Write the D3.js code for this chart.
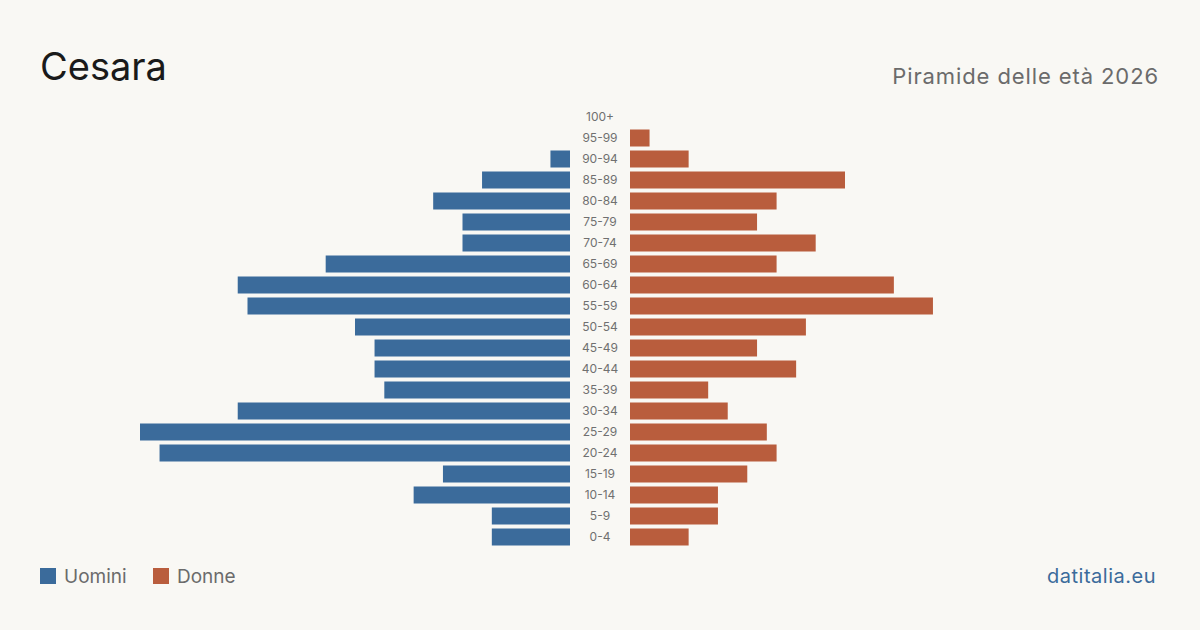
<!DOCTYPE html>
<html>
<head>
<meta charset="utf-8">
<script src="https://cdn.jsdelivr.net/npm/d3@7"></script>
<style>
  body { margin: 0; background: #f9f8f4; }
  svg { display: block; font-family: Inter, "Noto Sans", sans-serif; }
</style>
</head>
<body>
<div id="chart"></div>
<script>
// age groups, top to bottom
const ageGroups = ["100+", "95-99", "90-94", "85-89", "80-84", "75-79", "70-74", "65-69",
  "60-64", "55-59", "50-54", "45-49", "40-44", "35-39", "30-34", "25-29", "20-24",
  "15-19", "10-14", "5-9", "0-4"];
const men   = [0, 0, 2, 9, 14, 11, 11, 25, 34, 33, 22, 20, 20, 19, 34, 44, 42, 13, 16, 8, 8];
const women = [0, 2, 6, 22, 15, 13, 19, 15, 27, 31, 18, 13, 17, 8, 10, 14, 15, 12, 9, 9, 6];
const legendLabels = ["Uomini", "Donne"];

const width = 1200, height = 630;
const blue = "#3b6b9b", red = "#b95d3d";

const svg = d3.select("#chart").append("svg")
  .attr("width", width)
  .attr("height", height);

svg.append("rect").attr("width", width).attr("height", height).attr("fill", "#f9f8f4");

// title + subtitle
svg.append("text")
  .attr("x", 40).attr("y", 80)
  .attr("font-size", 38)
  .attr("fill", "#1a1a1a")
  .text("Cesara");

svg.append("text")
  .attr("x", 1159).attr("y", 84)
  .attr("text-anchor", "end")
  .attr("font-size", 22)
  .attr("letter-spacing", 0.9)
  .attr("fill", "#6b6b6b")
  .text("Piramide delle età 2026");

// scales
const y = d3.scaleBand()
  .domain(ageGroups)
  .range([106.5, 547.5])
  .paddingInner(4 / 21)
  .paddingOuter(2 / 21);

const xLeft = d3.scaleLinear().domain([0, 44]).range([570, 140]);
const xRight = d3.scaleLinear().domain([0, 44]).range([630, 1060]);

// men bars
svg.append("g").selectAll("rect")
  .data(ageGroups)
  .join("rect")
  .attr("x", (d, i) => xLeft(men[i]))
  .attr("y", d => y(d))
  .attr("width", (d, i) => xLeft(0) - xLeft(men[i]))
  .attr("height", y.bandwidth())
  .attr("fill", blue);

// women bars
svg.append("g").selectAll("rect")
  .data(ageGroups)
  .join("rect")
  .attr("x", xRight(0))
  .attr("y", d => y(d))
  .attr("width", (d, i) => xRight(women[i]) - xRight(0))
  .attr("height", y.bandwidth())
  .attr("fill", red);

// age labels in the middle
svg.append("g").selectAll("text")
  .data(ageGroups)
  .join("text")
  .attr("x", 600)
  .attr("y", d => y(d) + y.bandwidth() / 2)
  .attr("dy", "0.35em")
  .attr("text-anchor", "middle")
  .attr("font-size", 12)
  .attr("fill", "#707070")
  .text(d => d);

// legend
const legend = svg.append("g").selectAll("g")
  .data(legendLabels)
  .join("g")
  .attr("transform", (d, i) => `translate(${40 + i * 113}, 568)`);

legend.append("rect")
  .attr("width", 16).attr("height", 16)
  .attr("fill", (d, i) => i === 0 ? blue : red);

legend.append("text")
  .attr("x", 24).attr("y", 8)
  .attr("dy", "0.35em")
  .attr("font-size", 19)
  .attr("fill", "#6b6b6b")
  .text(d => d);

// source
svg.append("text")
  .attr("x", 1156).attr("y", 583)
  .attr("text-anchor", "end")
  .attr("font-size", 20)
  .attr("letter-spacing", 0.5)
  .attr("fill", "#3b6b9b")
  .text("datitalia.eu");
</script>
</body>
</html>
